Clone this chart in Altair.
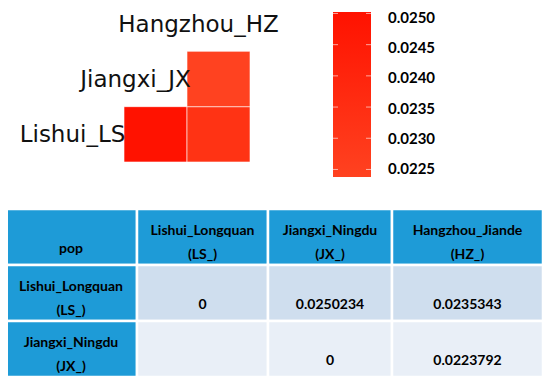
import altair as alt
import pandas as pd

# ---- heatmap data ----
pops = ["LS", "JX", "HZ"]
pop_labels = ["Lishui_LS", "Jiangxi_JX", "Hangzhou_HZ"]
pair_rows = ["LS", "LS", "JX"]
pair_cols = ["JX", "HZ", "HZ"]
pair_vals = [0.0250234, 0.0235343, 0.0223792]
legend_ticks = [0.0225, 0.0230, 0.0235, 0.0240, 0.0245, 0.0250]

# ---- table data ----
table_cols = ["pop", "Lishui_Longquan\n(LS_)", "Jiangxi_Ningdu\n(JX_)", "Hangzhou_Jiande\n(HZ_)"]
table_row_names = ["Lishui_Longquan\n(LS_)", "Jiangxi_Ningdu\n(JX_)"]
table_values = [["0", "0.0250234", "0.0235343"],
                ["", "0", "0.0223792"]]

# layout (column widths of the table)
col_widths = [132, 131, 124, 151]

C_LOW, C_HIGH = "#ff4220", "#ff1200"

heat = pd.DataFrame({"row": pair_rows, "col": pair_cols, "v": pair_vals})
labels = pd.DataFrame({"p": pops, "label": pop_labels})
ticks = pd.DataFrame({"v": legend_ticks, "lab": [f"{t:.4f}" for t in legend_ticks]})
vmin, vmax = min(pair_vals), max(pair_vals)
bar = pd.DataFrame({"lo": [vmin], "hi": [vmax]})

# build table cells
edges = [0]
for w in col_widths:
    edges.append(edges[-1] + w)
cells = []
row_keys = ["head", "LS", "JX"]
for ri, rk in enumerate(row_keys):
    for ci in range(4):
        if ri == 0:
            txt = table_cols[ci]
            kind = "head"
        elif ci == 0:
            txt = table_row_names[ri - 1]
            kind = "head"
        else:
            txt = table_values[ri - 1][ci - 1]
            kind = "odd" if ri == 1 else "even"
        cells.append({"r": rk, "x0": edges[ci], "x1": edges[ci + 1],
                      "xm": (edges[ci] + edges[ci + 1]) / 2, "t": txt, "kind": kind,
                      "ml": "\n" in txt})
tab = pd.DataFrame(cells)

hxs = alt.Scale(domain=pops, range=[53, 242], paddingInner=0, paddingOuter=0)
hys = alt.Scale(domain=["HZ", "JX", "LS"], range=[-12, 154], paddingInner=0, paddingOuter=0)

rects = alt.Chart(heat).mark_rect(stroke="#ffffff", strokeWidth=1, strokeOpacity=0.6).encode(
    x=alt.X("col:N", scale=hxs, axis=None),
    y=alt.Y("row:N", scale=hys, axis=None),
    color=alt.Color("v:Q", scale=alt.Scale(domain=[vmin, vmax], range=[C_LOW, C_HIGH]), legend=None),
)

lbl = alt.Chart(labels).mark_text(font="DejaVu Sans", fontSize=23, align="center", baseline="middle",
                                  dx=-20, dy=1, color="#111111").encode(
    x=alt.X("p:N", scale=hxs, axis=None),
    y=alt.Y("p:N", scale=hys, axis=None),
    text="label:N",
)

# colour bar: value -> pixel mapping for the gradient
gscale = alt.Scale(domain=[vmin, vmax], range=[169, 4], zero=False, nice=False)
grad = alt.Chart(bar).mark_rect(
    fill=alt.Gradient(gradient="linear", x1=0, y1=1, x2=0, y2=0,
                      stops=[alt.GradientStop(offset=0, color=C_LOW),
                             alt.GradientStop(offset=1, color=C_HIGH)])
).encode(y=alt.Y("hi:Q", scale=gscale, axis=None), y2="lo:Q", x=alt.value(325), x2=alt.value(363))

tick_l = alt.Chart(ticks).mark_rule(color="#ffffff", strokeWidth=1, opacity=0.6).encode(
    y=alt.Y("v:Q", scale=gscale, axis=None), x=alt.value(325), x2=alt.value(330))
tick_r = alt.Chart(ticks).mark_rule(color="#ffffff", strokeWidth=1, opacity=0.6).encode(
    y=alt.Y("v:Q", scale=gscale, axis=None), x=alt.value(358), x2=alt.value(363))

# legend labels
lscale = alt.Scale(domain=[0.0225, 0.0250], range=[161, 10], zero=False, nice=False)
leg_lab = alt.Chart(ticks).mark_text(font="Lato", fontWeight="bold", fontSize=15, align="left",
                                     baseline="middle", color="#000000").encode(
    y=alt.Y("v:Q", scale=lscale, axis=None), x=alt.value(380), text="lab:N")

tx = alt.Scale(domain=[0, edges[-1]], range=[-3, 535])
ty = alt.Scale(domain=row_keys, range=[201, 369], paddingInner=0, paddingOuter=0)

tcells = alt.Chart(tab).mark_rect(stroke="#ffffff", strokeWidth=2.5).encode(
    x=alt.X("x0:Q", scale=tx, axis=None),
    x2="x1:Q",
    y=alt.Y("r:N", scale=ty, axis=None),
    fill=alt.Fill("kind:N", scale=alt.Scale(domain=["head", "odd", "even"],
                                            range=["#1e9bd7", "#cfdeee", "#e9eff7"]), legend=None),
)

ttext_ml = alt.Chart(tab[tab["ml"]]).mark_text(font="Lato", fontWeight="bold", fontSize=14, align="center",
                                              baseline="middle", lineBreak="\n", lineHeight=24, dy=-6,
                                              color="#000000").encode(
    x=alt.X("xm:Q", scale=tx, axis=None),
    y=alt.Y("r:N", scale=ty, axis=None),
    text="t:N",
)
ttext_sl = alt.Chart(tab[~tab["ml"]]).mark_text(font="Lato", fontWeight="bold", fontSize=14, align="center",
                                               baseline="middle", dy=12, color="#000000").encode(
    x=alt.X("xm:Q", scale=tx, axis=None),
    y=alt.Y("r:N", scale=ty, axis=None),
    text="t:N",
)

chart = alt.layer(rects, lbl, grad, tick_l, tick_r, leg_lab, tcells, ttext_ml, ttext_sl).resolve_scale(
    x="independent", y="independent"
).properties(
    width=534, height=369, autosize=alt.AutoSizeParams(type="none"), padding=0
).configure_view(stroke=None)

chart.save("out.html", embed_options={"renderer": "svg", "actions": False})
